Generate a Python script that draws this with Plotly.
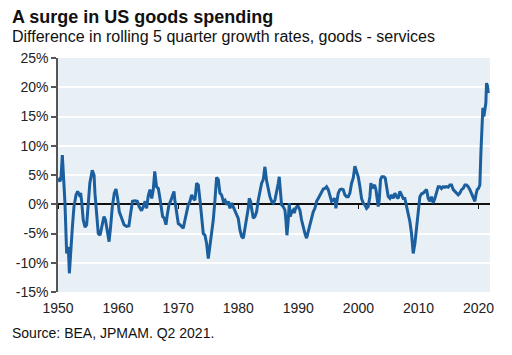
import plotly.graph_objects as go

# Quarter dates (decimal years)
years = [
    1950.0, 1950.17, 1950.33, 1950.5, 1950.72, 1950.9, 1951.16, 1951.44, 1951.72, 1951.89,
    1952.1, 1952.4, 1952.66, 1953.0, 1953.27, 1953.55, 1953.77, 1953.94, 1954.2, 1954.5,
    1954.77, 1955.05, 1955.3, 1955.7, 1956.0, 1956.15, 1956.4, 1956.7, 1957.0, 1957.27,
    1957.65, 1957.9, 1958.2, 1958.5, 1958.76, 1959.04, 1959.37, 1959.65, 1959.93, 1960.2,
    1960.6, 1961.0, 1961.4, 1961.8, 1962.1, 1962.4, 1962.8, 1963.2, 1963.5, 1963.9,
    1964.2, 1964.5, 1964.75, 1965.0, 1965.3, 1965.6, 1965.86, 1966.1, 1966.4, 1966.7,
    1966.97, 1967.2, 1967.41, 1967.69, 1967.97, 1968.19, 1968.47, 1968.8, 1969.08, 1969.3,
    1969.47, 1969.74, 1970.02, 1970.3, 1970.57, 1970.85, 1971.13, 1971.41, 1971.68, 1971.96,
    1972.24, 1972.52, 1972.79, 1973.07, 1973.35, 1973.63, 1973.9, 1974.18, 1974.46, 1974.73,
    1975.01, 1975.29, 1975.57, 1975.84, 1976.12, 1976.4, 1976.68, 1976.95, 1977.23, 1977.51,
    1977.79, 1978.06, 1978.34, 1978.62, 1978.9, 1979.17, 1979.45, 1979.73, 1980.0, 1980.28,
    1980.56, 1980.84, 1981.11, 1981.39, 1981.67, 1981.83, 1982.06, 1982.22, 1982.5, 1982.78,
    1983.05, 1983.33, 1983.61, 1983.89, 1984.16, 1984.44, 1984.72, 1985.0, 1985.27, 1985.55,
    1985.83, 1986.1, 1986.38, 1986.66, 1986.82, 1987.05, 1987.21, 1987.49, 1987.77, 1987.93,
    1988.1, 1988.32, 1988.49, 1988.66, 1988.88, 1989.15, 1989.32, 1989.54, 1989.76, 1989.99,
    1990.26, 1990.54, 1990.82, 1991.1, 1991.37, 1991.65, 1991.93, 1992.2, 1992.48, 1992.76,
    1993.04, 1993.31, 1993.59, 1993.87, 1994.15, 1994.42, 1994.7, 1994.98, 1995.26, 1995.53,
    1995.81, 1996.09, 1996.25, 1996.48, 1996.64, 1996.92, 1997.2, 1997.47, 1997.75, 1998.03,
    1998.31, 1998.58, 1998.86, 1999.14, 1999.41, 1999.69, 1999.97, 2000.25, 2000.52, 2000.8,
    2001.08, 2001.36, 2001.63, 2001.91, 2002.08, 2002.3, 2002.46, 2002.69, 2002.91, 2003.13,
    2003.3, 2003.46, 2003.68, 2003.91, 2004.24, 2004.46, 2004.68, 2004.96, 2005.24, 2005.52,
    2005.79, 2006.07, 2006.35, 2006.62, 2006.9, 2007.18, 2007.46, 2007.73, 2008.01, 2008.29,
    2008.57, 2008.84, 2009.12, 2009.4, 2009.67, 2009.95, 2010.23, 2010.51, 2010.78, 2011.06,
    2011.34, 2011.62, 2011.89, 2012.17, 2012.45, 2012.73, 2013.0, 2013.28, 2013.56, 2013.83,
    2014.11, 2014.39, 2014.67, 2014.94, 2015.22, 2015.5, 2015.78, 2016.05, 2016.33, 2016.61,
    2016.88, 2017.16, 2017.44, 2017.72, 2017.99, 2018.27, 2018.55, 2018.83, 2019.1, 2019.38,
    2019.55, 2019.77, 2019.99, 2020.21, 2020.38, 2020.55, 2020.71, 2020.88, 2021.05, 2021.21,
    2021.32, 2021.49, 2021.6,
]

# Difference in rolling 5 quarter growth rates, goods - services (%)
diff_pct = [
    4.0, 4.2, 3.9, 4.5, 8.4, 5.3, 0.2, -8.4, -7.3, -11.8,
    -7.8, -3.8, -0.4, 1.6, 2.2, 1.6, 1.9, 0.5, -2.7, -3.9,
    -3.5, -0.4, 3.6, 5.8, 5.0, 1.9, -2.1, -5.0, -5.3, -3.8,
    -2.1, -2.7, -5.0, -6.4, -3.8, -0.4, 1.9, 2.6, 1.0, -1.3,
    -2.4, -3.5, -3.8, -3.7, -1.5, 0.5, 0.6, 0.5, -0.4, -1.1,
    -0.4, 0.5, -0.7, 1.3, 2.5, 1.0, 2.5, 5.6, 3.0, 2.7,
    1.0, -1.2, -2.1, -2.4, -3.5, -1.8, -0.1, 0.7, 1.6, 2.2,
    0.5, -1.3, -3.3, -3.5, -3.8, -4.1, -2.7, -1.0, -0.1, 0.5,
    1.6, 1.0, 0.7, 3.6, 3.3, 0.7, -2.1, -5.0, -5.3, -6.7,
    -9.3, -7.3, -4.4, -2.7, 0.7, 4.6, 4.2, 1.9, 1.6, 0.5,
    0.7, -0.1, 0.5, -0.7, 0.2, -0.4, -1.3, -1.8, -2.4, -4.4,
    -5.5, -5.8, -4.1, -2.7, -0.7, 1.0, 0.5, -0.7, -2.4, -2.1,
    -1.3, 0.7, 2.2, 3.6, 4.2, 6.4, 4.0, 2.5, 1.3, 0.5,
    0.2, 0.7, 1.9, 3.6, 4.7, 2.5, -0.1, -0.4, -1.0, -2.7,
    -5.3, -2.7, 0.2, -2.1, -1.3, -1.0, -1.5, -0.7, -0.4, -0.4,
    -1.0, -2.7, -4.1, -5.0, -5.8, -4.7, -3.3, -2.1, -1.3, -0.7,
    0.5, 1.0, 1.6, 2.2, 2.6, 2.7, 3.0, 2.5, 1.6, 0.5,
    0.7, 1.0, -0.7, 1.0, 1.9, 2.5, 2.6, 2.5, 1.6, 1.3,
    1.3, 1.9, 3.6, 4.5, 6.5, 5.6, 4.7, 3.0, 1.0, 0.2,
    -0.1, -0.7, -0.4, 1.3, 3.6, 2.7, 3.0, 3.3, 2.5, 0.5,
    -0.4, 0.7, 4.2, 4.7, 4.7, 4.5, 3.3, 1.3, 1.0, 1.6,
    1.0, 1.9, 1.3, 1.0, 2.2, 1.6, 1.0, 1.0, -0.4, -1.5,
    -3.0, -5.0, -8.4, -6.7, -4.1, -2.1, 1.3, 1.8, 1.9, 2.2,
    2.5, 1.0, 0.5, 1.3, 0.2, 1.0, 2.2, 3.0, 3.0, 2.7,
    3.0, 2.9, 3.0, 2.9, 3.3, 3.3, 2.5, 2.2, 1.9, 1.6,
    1.9, 2.5, 2.7, 3.3, 3.3, 3.0, 2.5, 1.9, 1.3, 0.5,
    1.6, 2.5, 2.7, 3.3, 8.7, 15.0, 16.5, 15.0, 16.7, 17.3,
    20.7, 20.2, 19.0,
]

x_ticks = [1950, 1960, 1970, 1980, 1990, 2000, 2010, 2020]
y_ticks = [-15, -10, -5, 0, 5, 10, 15, 20, 25]
y_ticklabels = [f"{v}%" for v in y_ticks]

title_text = "A surge in US goods spending"
subtitle_text = "Difference in rolling 5 quarter growth rates, goods - services"
source_text = "Source: BEA, JPMAM. Q2 2021."

FONT = "Arial, 'Liberation Sans', Helvetica, sans-serif"
X_RANGE = [1950, 2021.9]

fig = go.Figure()
fig.add_trace(go.Scatter(
    x=years, y=diff_pct, mode="lines",
    line=dict(color="#1b5f9f", width=3),
    hoverinfo="skip", showlegend=False,
))
# empty trace so the zero-line axis (x2) is drawn
fig.add_trace(go.Scatter(x=[], y=[], xaxis="x2", yaxis="y", showlegend=False))

fig.update_layout(
    width=512, height=355,
    margin=dict(l=58, r=22, t=58, b=63),
    paper_bgcolor="white",
    plot_bgcolor="#e9f0f5",
    font=dict(family=FONT, color="#222222"),
    xaxis=dict(
        range=X_RANGE, tickvals=x_ticks, ticktext=[str(v) for v in x_ticks],
        showgrid=False, zeroline=False, showline=False, ticks="",
        tickfont=dict(size=14, color="#222222"), ticklabelstandoff=6,
    ),
    xaxis2=dict(
        range=X_RANGE, overlaying="x", anchor="free", position=0.375,
        tickvals=x_ticks, showticklabels=False, showgrid=False, zeroline=False,
        showline=True, linecolor="#111111", linewidth=1.5,
        ticks="outside", ticklen=4, tickwidth=1.2, tickcolor="#111111",
        layer="below traces",
    ),
    yaxis=dict(
        range=[-15, 25], tickvals=y_ticks, ticktext=y_ticklabels,
        showgrid=True, gridcolor="white", gridwidth=2, zeroline=False,
        showline=True, linecolor="#555555", linewidth=1.5,
        ticks="outside", ticklen=5, tickwidth=1.5, tickcolor="#555555",
        tickfont=dict(size=14, color="#222222"),
    ),
    annotations=[
        dict(text=f"<b>{title_text}</b>", xref="paper", yref="paper",
             x=-0.111, y=1.175, xanchor="left", yanchor="middle", showarrow=False,
             font=dict(size=18, color="#111111", family=FONT)),
        dict(text=subtitle_text, xref="paper", yref="paper",
             x=-0.111, y=1.09, xanchor="left", yanchor="middle", showarrow=False,
             font=dict(size=16, color="#111111", family=FONT)),
        dict(text=source_text, xref="paper", yref="paper",
             x=-0.111, y=-0.175, xanchor="left", yanchor="middle", showarrow=False,
             font=dict(size=14, color="#111111", family=FONT)),
    ],
)

fig.write_html(
    "out.html",
    config={"displayModeBar": False},
    post_script="document.body.style.margin='0';",
)
